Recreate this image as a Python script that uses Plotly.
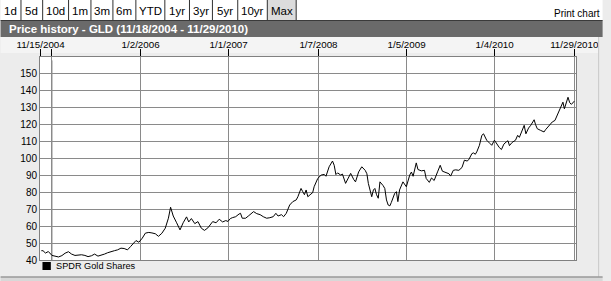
import plotly.graph_objects as go

# ---- data ----
dates = [
    "2004-11-18", "2004-11-25", "2004-12-05", "2004-12-17", "2005-01-01", "2005-01-15",
    "2005-01-28", "2005-02-11", "2005-02-24", "2005-03-10", "2005-03-23", "2005-04-06",
    "2005-04-19", "2005-05-03", "2005-05-17", "2005-05-30", "2005-06-13", "2005-06-26",
    "2005-07-10", "2005-07-23", "2005-08-06", "2005-08-19", "2005-09-02", "2005-09-16",
    "2005-09-29", "2005-10-13", "2005-10-26", "2005-11-09", "2005-11-22", "2005-12-06",
    "2005-12-14", "2005-12-26", "2006-01-09", "2006-01-22", "2006-02-05", "2006-02-18",
    "2006-03-04", "2006-03-17", "2006-03-31", "2006-04-14", "2006-04-27", "2006-05-06",
    "2006-05-17", "2006-05-31", "2006-06-14", "2006-06-27", "2006-07-11", "2006-07-20",
    "2006-07-31", "2006-08-14", "2006-08-27", "2006-09-10", "2006-09-23", "2006-10-07",
    "2006-10-27", "2006-11-10", "2006-11-23", "2006-12-07", "2006-12-20", "2006-12-29",
    "2007-01-08", "2007-01-16", "2007-01-30", "2007-02-13", "2007-02-19", "2007-02-26",
    "2007-03-12", "2007-03-25", "2007-04-14", "2007-04-27", "2007-05-11", "2007-05-24",
    "2007-06-07", "2007-06-20", "2007-07-04", "2007-07-15", "2007-07-24", "2007-08-07",
    "2007-08-16", "2007-08-27", "2007-09-10", "2007-09-23", "2007-10-07", "2007-10-14",
    "2007-10-27", "2007-11-03", "2007-11-10", "2007-11-17", "2007-11-24", "2007-12-07",
    "2007-12-14", "2007-12-20", "2008-01-04", "2008-01-18", "2008-01-31", "2008-02-07",
    "2008-02-14", "2008-02-20", "2008-03-05", "2008-03-12", "2008-03-19", "2008-03-26",
    "2008-04-08", "2008-04-15", "2008-04-28", "2008-05-12", "2008-05-19", "2008-06-01",
    "2008-06-08", "2008-06-21", "2008-07-04", "2008-07-18", "2008-07-25", "2008-07-31",
    "2008-08-07", "2008-08-14", "2008-08-21", "2008-08-27", "2008-09-03", "2008-09-10",
    "2008-09-17", "2008-09-24", "2008-09-30", "2008-10-07", "2008-10-14", "2008-10-21",
    "2008-10-28", "2008-11-03", "2008-11-10", "2008-11-17", "2008-11-24", "2008-11-30",
    "2008-12-07", "2008-12-21", "2009-01-04", "2009-01-18", "2009-01-25", "2009-02-01",
    "2009-02-14", "2009-02-21", "2009-03-07", "2009-03-20", "2009-03-27", "2009-04-09",
    "2009-04-18", "2009-04-29", "2009-05-13", "2009-05-24", "2009-06-02", "2009-06-16",
    "2009-06-29", "2009-07-06", "2009-07-17", "2009-07-27", "2009-08-09", "2009-08-22",
    "2009-09-01", "2009-09-12", "2009-09-19", "2009-10-02", "2009-10-09", "2009-10-16",
    "2009-10-22", "2009-11-02", "2009-11-12", "2009-11-19", "2009-11-26", "2009-12-02",
    "2009-12-16", "2009-12-23", "2010-01-03", "2010-01-12", "2010-01-23", "2010-02-01",
    "2010-02-11", "2010-02-21", "2010-02-28", "2010-03-06", "2010-03-17", "2010-03-31",
    "2010-04-09", "2010-04-16", "2010-04-27", "2010-05-06", "2010-05-13", "2010-05-24",
    "2010-06-02", "2010-06-16", "2010-06-22", "2010-06-29", "2010-07-13", "2010-07-27",
    "2010-08-02", "2010-08-16", "2010-08-30", "2010-09-10", "2010-09-20", "2010-10-03",
    "2010-10-13", "2010-10-19", "2010-10-24", "2010-11-03", "2010-11-10", "2010-11-17",
    "2010-11-29",
]
prices = [
    45.5, 45.5, 44.1, 45.0, 42.7, 42.1,
    41.8, 42.6, 44.0, 44.9, 43.5, 42.7,
    43.0, 43.1, 42.7, 42.0, 42.5, 43.5,
    42.3, 42.7, 43.5, 44.3, 44.7, 45.5,
    46.0, 47.0, 46.8, 46.0, 48.0, 50.0,
    51.5, 50.5, 52.9, 55.9, 56.3, 56.0,
    55.5, 54.0, 55.8, 58.8, 64.7, 71.2,
    66.0, 62.0, 57.8, 62.0, 65.5, 62.5,
    64.5, 61.5, 62.7, 58.8, 57.5, 59.0,
    62.7, 62.0, 64.1, 62.5, 63.3, 62.8,
    64.5, 65.0, 65.6, 67.2, 67.6, 64.7,
    64.7, 66.2, 68.6, 67.4, 66.8, 65.6,
    64.7, 65.0, 65.6, 67.6, 66.0, 66.8,
    65.6, 67.6, 72.5, 74.5, 75.5, 77.4,
    82.3, 80.4, 78.6, 81.4, 77.4, 79.0,
    79.8, 83.3, 88.2, 90.2, 90.6, 89.5,
    92.1, 95.1, 98.5, 96.0, 90.5, 91.5,
    90.2, 90.8, 85.3, 88.8, 91.2, 87.5,
    86.2, 92.1, 95.1, 93.0, 91.0, 85.3,
    80.4, 77.4, 81.4, 82.3, 78.6, 76.5,
    86.2, 85.3, 84.0, 82.3, 75.5, 72.5,
    72.0, 74.0, 77.4, 79.4, 80.4, 74.5,
    81.4, 86.2, 83.3, 90.2, 92.0, 89.5,
    97.4, 93.5, 92.7, 93.0, 88.2, 85.9,
    88.5, 87.0, 92.1, 96.0, 92.5, 91.8,
    91.0, 89.6, 93.0, 93.3, 93.0, 94.7,
    99.0, 98.5, 99.3, 102.9, 103.3, 102.5,
    103.9, 107.8, 113.7, 114.6, 112.0, 110.8,
    108.8, 107.8, 110.8, 108.8, 106.5, 105.3,
    108.5, 109.8, 110.5, 107.6, 109.5, 110.8,
    113.7, 112.5, 116.6, 119.6, 114.6, 118.0,
    119.6, 122.9, 120.0, 117.6, 116.6, 115.7,
    117.0, 119.6, 121.6, 122.5, 125.5, 130.4,
    133.3, 129.4, 131.5, 136.2, 133.0, 132.0,
    133.9,
]
series_name = "SPDR Gold Shares"
title_text = "Price history - GLD (11/18/2004 - 11/29/2010)"
x_tick_vals = ["2004-11-15", "2005-01-01", "2006-01-02", "2007-01-01", "2008-01-07",
               "2009-01-05", "2010-01-04", "2010-11-29"]
x_tick_text = ["11/15/2004", "", "1/2/2006", "1/1/2007", "1/7/2008",
               "1/5/2009", "1/4/2010", "11/29/2010"]
y_tick_vals = [40, 50, 60, 70, 80, 90, 100, 110, 120, 130, 140, 150]
buttons = ["1d", "5d", "10d", "1m", "3m", "6m", "YTD", "1yr", "3yr", "5yr", "10yr", "Max"]

# ---- layout geometry (pixels) ----
W, H = 611, 281
L, R, T, B = 40, 27, 57, 21
PW, PH = W - L - R, H - T - B


def px(x):
    return (x - L) / PW


def py(y):
    return (H - B - y) / PH


FONT = "Liberation Sans, Arial, sans-serif"

fig = go.Figure()
fig.add_trace(go.Scatter(x=dates, y=prices, mode="lines", name=series_name,
                         line=dict(color="black", width=1), showlegend=False,
                         hoverinfo="x+y"))

shapes = []
annotations = []

# top strip (buttons + print chart)
shapes.append(dict(type="rect", xref="paper", yref="paper", x0=px(0), x1=px(W), y0=py(0), y1=py(20.5),
                   fillcolor="white", line=dict(width=0), layer="below"))
seps = [0, 20.7, 42.7, 69, 91.7, 114, 137.3, 166.7, 191.7, 215, 240.7, 270.7, 300]
shapes.append(dict(type="rect", xref="paper", yref="paper", x0=px(seps[-2]), x1=px(seps[-1]),
                   y0=py(0), y1=py(20.5), fillcolor="#dcdcdc", line=dict(width=0), layer="below"))
for s in seps[1:]:
    shapes.append(dict(type="line", xref="paper", yref="paper", x0=px(s), x1=px(s), y0=py(0), y1=py(20),
                       line=dict(color="#303030", width=1)))
for i, b in enumerate(buttons):
    annotations.append(dict(text=b, xref="paper", yref="paper", x=px((seps[i] + seps[i + 1]) / 2),
                            y=py(10.5), showarrow=False, xanchor="center", yanchor="middle",
                            font=dict(family=FONT, size=11.5, color="black")))
annotations.append(dict(text="Print chart", xref="paper", yref="paper", x=px(610), y=py(14),
                        showarrow=False, xanchor="right", yanchor="middle",
                        font=dict(family=FONT, size=10, color="black")))

# title bar
shapes.append(dict(type="rect", xref="paper", yref="paper", x0=px(0), x1=px(W), y0=py(20.5), y1=py(37),
                   fillcolor="#6a6a6a", line=dict(width=0), layer="below"))
shapes.append(dict(type="line", xref="paper", yref="paper", x0=px(0), x1=px(W), y0=py(20.5), y1=py(20.5),
                   line=dict(color="#3a3a3a", width=1)))
annotations.append(dict(text="<b>" + title_text + "</b>", xref="paper", yref="paper", x=px(6), y=py(29),
                        showarrow=False, xanchor="left", yanchor="middle",
                        font=dict(family=FONT, size=11.5, color="white")))

# date row band and panel borders
shapes.append(dict(type="rect", xref="paper", yref="paper", x0=px(0), x1=px(607), y0=py(37), y1=py(53),
                   fillcolor="#f4f4f4", line=dict(width=0), layer="below"))
shapes.append(dict(type="line", xref="paper", yref="paper", x0=px(607), x1=px(607), y0=py(37), y1=py(277),
                   line=dict(color="#c8c8c8", width=1)))
shapes.append(dict(type="rect", xref="paper", yref="paper", x0=px(0), x1=px(W), y0=py(277), y1=py(H),
                   fillcolor="#d8d8d8", line=dict(width=0), layer="below"))
shapes.append(dict(type="line", xref="paper", yref="paper", x0=px(0), x1=px(W), y0=py(277), y1=py(277),
                   line=dict(color="#9a9a9a", width=1.5)))

# unlabeled 1/1/2005 gridline
shapes.append(dict(type="line", xref="x", yref="y", x0=x_tick_vals[1], x1=x_tick_vals[1], y0=40, y1=158,
                   line=dict(color="#8a8a8a", width=1), layer="below"))

# legend
shapes.append(dict(type="rect", xref="paper", yref="paper", x0=px(42.5), x1=px(51), y0=py(262), y1=py(270),
                   fillcolor="black", line=dict(width=0)))
annotations.append(dict(text=series_name, xref="paper", yref="paper", x=px(54), y=py(266),
                        showarrow=False, xanchor="left", yanchor="middle",
                        font=dict(family=FONT, size=9.2, color="black")))

fig.update_layout(
    width=W, height=H,
    margin=dict(l=L, r=R, t=T, b=B, pad=0),
    paper_bgcolor="#ececec",
    plot_bgcolor="white",
    showlegend=False,
    font=dict(family=FONT, size=10, color="black"),
    shapes=shapes,
    annotations=annotations,
    xaxis=dict(
        type="date", side="top",
        range=["2004-11-12 12:00", "2010-12-06"],
        tickmode="array", tickvals=x_tick_vals, ticktext=x_tick_text,
        ticks="outside", ticklen=7, tickcolor="black", tickwidth=1,
        ticklabelstandoff=-3,
        showgrid=True, gridcolor="#8a8a8a", gridwidth=1,
        showline=True, linecolor="#808080", linewidth=1, mirror=True,
        zeroline=False, fixedrange=True,
        tickfont=dict(family=FONT, size=9.8, color="black"),
    ),
    yaxis=dict(
        range=[40, 160],
        tickmode="array", tickvals=y_tick_vals,
        ticks="", showgrid=True, gridcolor="#8a8a8a", gridwidth=1,
        showline=True, linecolor="#808080", linewidth=1, mirror=True,
        zeroline=False, fixedrange=True,
        tickfont=dict(family=FONT, size=10, color="black"),
    ),
)

fig.write_html("out.html", config={"displayModeBar": False})
